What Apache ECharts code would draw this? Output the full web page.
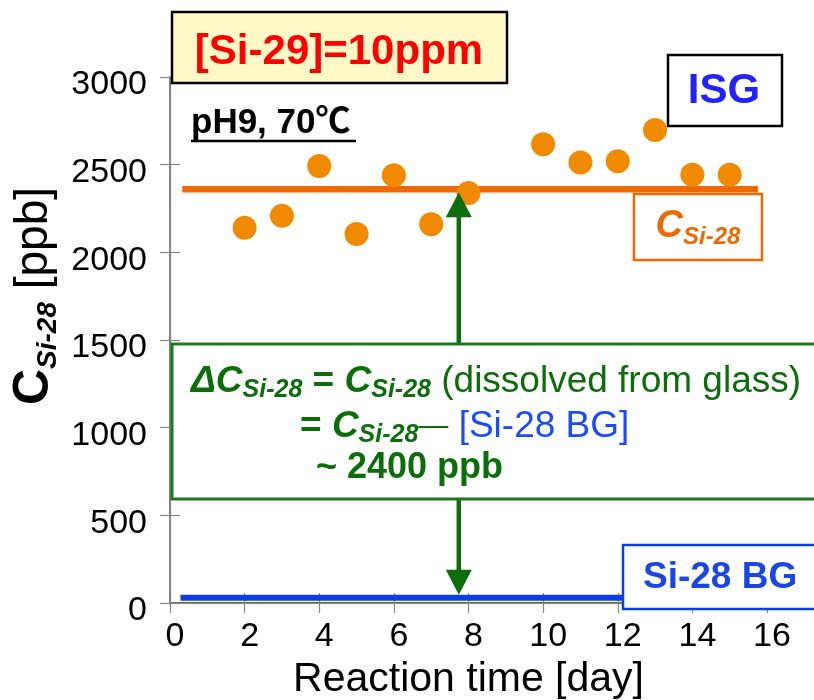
<!DOCTYPE html>
<html>
<head>
<meta charset="utf-8">
<script src="https://cdn.jsdelivr.net/npm/echarts@6.0.0/dist/echarts.min.js"></script>
<style>
  html, body { margin: 0; padding: 0; background: #fff; }
  #chart { width: 814px; height: 700px; }
</style>
</head>
<body>
<div id="chart"></div>
<script>
// Measured Si-28 concentration in the ISG leach test
const days = [2, 3, 4, 5, 6, 7, 8, 10, 11, 12, 13, 14, 15];
const csi28 = [2140, 2208, 2493, 2105, 2440, 2160, 2339, 2617, 2512, 2520, 2698, 2442, 2443];

// Average level and background level (ppb) with the day span they are drawn over
const csi28Mean = 2360;
const meanSpan = [0.33, 15.76];
const bgLevel = 30;
const bgSpan = [0.28, 15.76];

// Day at which the difference arrow is drawn
const arrowDay = 7.74;

// Axis ranges: [min, max, interval]
const xRange = [0, 16, 2];
const yRange = [0, 3000, 500];

const FONT = "'Liberation Sans', Arial, 'Noto Sans CJK JP', sans-serif";
const GREEN = '#0B6E0B';
const ORANGE_PT = '#F28A00';
const ORANGE_LN = '#EE6A00';
const BLUE = '#0B3FE6';

const chart = echarts.init(document.getElementById('chart'), null, { renderer: 'canvas' });

const frameLine = { show: true, lineStyle: { color: '#888', width: 1.2 } };
const innerTick = { show: true, inside: true, length: 10, lineStyle: { color: '#888', width: 1.2 } };

const option = {
  animation: false,
  backgroundColor: '#fff',
  grid: { left: 170, top: 77, width: 597, height: 526, containLabel: false, outerBoundsMode: 'none' },
  xAxis: [
    {
      type: 'value', min: xRange[0], max: xRange[1], interval: xRange[2],
      position: 'bottom',
      axisLine: { show: true, onZero: false, lineStyle: { color: '#333', width: 1.5 } },
      axisTick: innerTick,
      splitLine: { show: false },
      axisLabel: {
        fontFamily: FONT, fontSize: 34, color: '#000', margin: 17,
        padding: [0, 0, 0, 10],
        formatter: v => String(v)
      },
      name: 'Reaction time [day]', nameLocation: 'middle', nameGap: 40,
      nameTextStyle: { fontFamily: FONT, fontSize: 41, color: '#000' }
    },
    {
      type: 'value', min: xRange[0], max: xRange[1], interval: xRange[2],
      position: 'top',
      axisLine: frameLine, axisTick: innerTick,
      axisLabel: { show: false }, splitLine: { show: false }
    }
  ],
  yAxis: [
    {
      type: 'value', min: yRange[0], max: yRange[1], interval: yRange[2],
      position: 'left',
      axisLine: { show: true, onZero: false, lineStyle: { color: '#555', width: 1.5 } },
      axisTick: innerTick,
      splitLine: { show: false },
      axisLabel: {
        fontFamily: FONT, fontSize: 34, color: '#000', margin: 23,
        verticalAlign: 'top', lineHeight: 16,
        formatter: v => String(v)
      }
    },
    {
      type: 'value', min: yRange[0], max: yRange[1], interval: yRange[2],
      position: 'right',
      axisLine: frameLine, axisTick: innerTick,
      axisLabel: { show: false }, splitLine: { show: false }
    }
  ],
  series: [
    {
      name: 'Si-28 BG', type: 'line', xAxisIndex: 0, yAxisIndex: 0,
      data: bgSpan.map(d => [d, bgLevel]),
      symbol: 'none', silent: true,
      lineStyle: { color: BLUE, width: 6 }, z: 3
    },
    {
      name: 'mean', type: 'line', xAxisIndex: 0, yAxisIndex: 0,
      data: meanSpan.map(d => [d, csi28Mean]),
      symbol: 'none', silent: true,
      lineStyle: { color: ORANGE_LN, width: 6.5 }, z: 3
    },
    {
      name: 'C Si-28', type: 'scatter', xAxisIndex: 0, yAxisIndex: 0,
      data: days.map((d, i) => [d, csi28[i]]),
      symbolSize: 24,
      itemStyle: { color: ORANGE_PT, opacity: 1 }, z: 4
    },
    {
      name: 'difference', type: 'custom', xAxisIndex: 0, yAxisIndex: 0,
      data: [[arrowDay, bgLevel, csi28Mean]],
      z: 5, silent: true,
      renderItem: function (params, api) {
        const lo = api.coord([api.value(0), api.value(1)]);
        const hi = api.coord([api.value(0), api.value(2)]);
        const px = lo[0];
        const top = hi[1] + 3;
        const bot = lo[1] - 3;
        const hh = 25, hw = 13;
        return {
          type: 'group',
          children: [
            { type: 'line', shape: { x1: px, y1: top + hh - 2, x2: px, y2: bot - hh + 2 },
              style: { stroke: GREEN, lineWidth: 4.5 } },
            { type: 'polygon', shape: { points: [[px, top], [px - hw, top + hh], [px + hw, top + hh]] },
              style: { fill: GREEN } },
            { type: 'polygon', shape: { points: [[px, bot], [px - hw, bot - hh], [px + hw, bot - hh]] },
              style: { fill: GREEN } }
          ]
        };
      }
    }
  ],
  graphic: [
    // concentration label in the top-left box
    { type: 'rect', z: 20, shape: { x: 172, y: 12, width: 335, height: 71 },
      style: { fill: '#FFF9C8', stroke: '#000', lineWidth: 2.5 } },
    { type: 'text', z: 21, x: 339, y: 52,
      style: { text: '[Si-29]=10ppm', fontFamily: FONT, fontSize: 42, fontWeight: 'bold',
               fill: '#FF0000', align: 'center', verticalAlign: 'middle' } },

    // glass type
    { type: 'rect', z: 20, shape: { x: 668, y: 55, width: 114, height: 71 },
      style: { fill: '#fff', stroke: '#000', lineWidth: 2.5 } },
    { type: 'text', z: 21, x: 724, y: 91,
      style: { text: 'ISG', fontFamily: FONT, fontSize: 42, fontWeight: 'bold',
               fill: '#2222FF', align: 'center', verticalAlign: 'middle' } },

    // conditions
    { type: 'text', z: 21, x: 191, y: 123,
      style: { text: 'pH9, 70℃', fontFamily: FONT, fontSize: 35, fontWeight: 'bold',
               fill: '#000', align: 'left', verticalAlign: 'middle' } },
    { type: 'line', z: 21, shape: { x1: 191, y1: 141, x2: 356, y2: 141 },
      style: { stroke: '#000', lineWidth: 2.5 } },

    // mean level label
    { type: 'rect', z: 20, shape: { x: 634, y: 194, width: 128, height: 66 },
      style: { fill: '#fff', stroke: ORANGE_LN, lineWidth: 2.5 } },
    { type: 'text', z: 21, x: 698, y: 227,
      style: {
        text: '{m|C}{s|Si-28}', align: 'center', verticalAlign: 'middle',
        rich: {
          m: { fontFamily: FONT, fontSize: 38, fontWeight: 'bold', fontStyle: 'italic', fill: ORANGE_LN, lineHeight: 44 },
          s: { fontFamily: FONT, fontSize: 24, fontWeight: 'bold', fontStyle: 'italic', fill: ORANGE_LN, lineHeight: 20, verticalAlign: 'bottom' }
        }
      } },

    // explanation box
    { type: 'rect', z: 20, shape: { x: 172, y: 344, width: 680, height: 155 },
      style: { fill: '#fff', stroke: '#1C7A1C', lineWidth: 3 } },
    { type: 'text', z: 21, x: 191, y: 382,
      style: {
        text: '{m|ΔC}{s|Si-28}{b| = }{m|C}{s|Si-28}{r| (dissolved from glass)}',
        align: 'left', verticalAlign: 'middle',
        rich: {
          m: { fontFamily: FONT, fontSize: 37, fontWeight: 'bold', fontStyle: 'italic', fill: GREEN, lineHeight: 42 },
          s: { fontFamily: FONT, fontSize: 25, fontWeight: 'bold', fontStyle: 'italic', fill: GREEN, lineHeight: 22, verticalAlign: 'bottom' },
          b: { fontFamily: FONT, fontSize: 37, fontWeight: 'bold', fill: GREEN, lineHeight: 42 },
          r: { fontFamily: FONT, fontSize: 37, fill: GREEN, lineHeight: 42 }
        }
      } },
    { type: 'text', z: 21, x: 300, y: 427,
      style: {
        text: '{b|= }{m|C}{s|Si-28}{d|—}{u| [Si-28 BG]}',
        align: 'left', verticalAlign: 'middle',
        rich: {
          m: { fontFamily: FONT, fontSize: 37, fontWeight: 'bold', fontStyle: 'italic', fill: GREEN, lineHeight: 42 },
          s: { fontFamily: FONT, fontSize: 25, fontWeight: 'bold', fontStyle: 'italic', fill: GREEN, lineHeight: 22, verticalAlign: 'bottom' },
          b: { fontFamily: FONT, fontSize: 37, fontWeight: 'bold', fill: GREEN, lineHeight: 42 },
          d: { fontFamily: FONT, fontSize: 30, fill: GREEN, lineHeight: 42 },
          u: { fontFamily: FONT, fontSize: 37, fill: '#1A4BFF', lineHeight: 42 }
        }
      } },
    { type: 'text', z: 21, x: 316, y: 468,
      style: { text: '~ 2400 ppb', fontFamily: FONT, fontSize: 36, fontWeight: 'bold',
               fill: GREEN, align: 'left', verticalAlign: 'middle' } },

    // background level label
    { type: 'rect', z: 20, shape: { x: 623, y: 545, width: 230, height: 64 },
      style: { fill: '#fff', stroke: BLUE, lineWidth: 2.5 } },
    { type: 'text', z: 21, x: 643, y: 578,
      style: { text: 'Si-28 BG', fontFamily: FONT, fontSize: 37, fontWeight: 'bold',
               fill: '#1A46E8', align: 'left', verticalAlign: 'middle' } },

    // y-axis title
    { type: 'text', z: 21, x: 34, y: 296, rotation: Math.PI / 2,
      style: {
        text: '{m|C}{s|Si-28}{r| [ppb]}', align: 'center', verticalAlign: 'middle',
        rich: {
          m: { fontFamily: FONT, fontSize: 50, fontWeight: 'bold', fill: '#000', lineHeight: 56 },
          s: { fontFamily: FONT, fontSize: 28, fontWeight: 'bold', fontStyle: 'italic', fill: '#000', lineHeight: 18, verticalAlign: 'bottom' },
          r: { fontFamily: FONT, fontSize: 46, fill: '#000', lineHeight: 56 }
        }
      } }
  ]
};

chart.setOption(option);
</script>
</body>
</html>
